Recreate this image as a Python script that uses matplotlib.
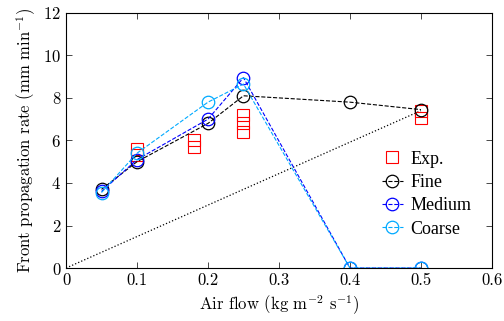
import matplotlib
matplotlib.use("Agg")
import matplotlib.pyplot as plt

plt.rcParams['font.family'] = 'serif'
plt.rcParams['font.serif'] = ['cmr10']
plt.rcParams['mathtext.fontset'] = 'cm'
plt.rcParams['axes.formatter.use_mathtext'] = True

# simulated cases
air_flow = [0.05, 0.1, 0.2, 0.25, 0.4, 0.5]
fine = [3.7, 5.0, 6.8, 8.1, 7.8, 7.45]
medium = [3.6, 5.1, 7.0, 8.95, 0.0, 0.0]
coarse = [3.55, 5.4, 7.8, 8.65, 0.0, 0.0]

# experiments
exp_x = [0.1, 0.1, 0.18, 0.18, 0.25, 0.25, 0.25, 0.5, 0.5]
exp_y = [5.6, 5.3, 6.0, 5.7, 7.2, 6.8, 6.4, 7.4, 7.05]

# reference line
ref_x = [0.0, 0.5]
ref_y = [0.0, 7.4]

fig = plt.figure(figsize=(5.04, 3.21), dpi=100)
ax = fig.add_axes([0.131, 0.165, 0.845, 0.795])

ax.plot(ref_x, ref_y, ':', color='k', lw=0.9)
ax.plot(exp_x, exp_y, 's', mfc='none', mec='red', ms=8, mew=0.8, label='Exp.')
ax.plot(air_flow, fine, '--o', color='k', mfc='none', ms=9, lw=0.8, mew=0.9, label='Fine')
ax.plot(air_flow, medium, '--o', color='#0000ff', mfc='none', ms=9, lw=0.8, mew=0.9, label='Medium')
ax.plot(air_flow, coarse, '--o', color='#00aaff', mfc='none', ms=9, lw=0.8, mew=0.9, label='Coarse')

ax.set_xlim(0, 0.6)
ax.set_ylim(0, 12)
ax.set_xticks([0, 0.1, 0.2, 0.3, 0.4, 0.5, 0.6])
ax.set_xticklabels(['0', '0.1', '0.2', '0.3', '0.4', '0.5', '0.6'])
ax.set_yticks(range(0, 13, 2))
ax.tick_params(direction='in', top=True, right=True, labelsize=12, length=4, width=0.5)
for s in ax.spines.values():
    s.set_linewidth(0.8)

ax.set_xlabel(r'Air flow (kg m$^{-2}$ s$^{-1}$)', fontsize=12)
ax.set_ylabel(r'Front propagation rate (mm min$^{-1}$)', fontsize=12)

ax.legend(loc='center right', bbox_to_anchor=(0.99, 0.29), frameon=False,
          prop={'family': 'Liberation Serif', 'size': 13}, handlelength=1.2,
          handletextpad=0.4, labelspacing=0.35)

fig.savefig('out.png', dpi=100)
